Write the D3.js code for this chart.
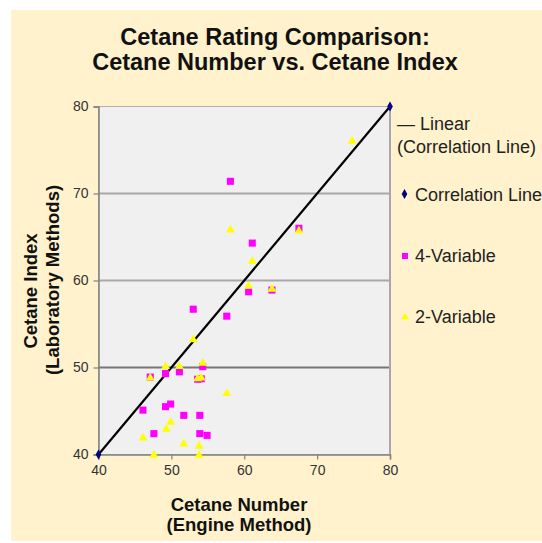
<!DOCTYPE html>
<html><head><meta charset="utf-8">
<script src="https://cdn.jsdelivr.net/npm/d3@7"></script>
<style>html,body{margin:0;padding:0;background:#fff;}svg{display:block;}</style>
</head><body>
<svg id="c" width="542" height="543"></svg>
<script>
const titleLines = ["Cetane Rating Comparison:", "Cetane Number vs. Cetane Index"];
const xTitleLines = ["Cetane Number", "(Engine Method)"];
const yTitleLines = ["Cetane Index", "(Laboratory Methods)"];
const xTicks = [40, 50, 60, 70, 80];
const yTicks = [40, 50, 60, 70, 80];
const corrX = [40, 80];
const corrY = [40, 80];
const fourVarX = [58.1, 67.5, 61.1, 60.6, 63.8, 53.0, 57.6, 54.3, 49.2, 51.1, 47.1, 53.6, 54.1, 46.1, 49.2, 49.9, 51.7, 53.9, 47.6, 53.9, 54.9];
const fourVarY = [71.4, 66.0, 64.3, 58.7, 58.9, 56.7, 55.9, 50.1, 49.3, 49.5, 48.9, 48.65, 48.7, 45.1, 45.5, 45.8, 44.5, 44.5, 42.4, 42.4, 42.2];
const twoVarX = [74.8, 58.1, 67.5, 61.1, 60.6, 63.8, 53.0, 54.3, 49.2, 51.1, 47.1, 53.6, 54.1, 57.6, 49.9, 49.3, 46.1, 51.7, 53.8, 47.6, 53.8];
const twoVarY = [76.1, 65.9, 65.8, 62.3, 59.45, 59.1, 53.3, 50.6, 50.2, 50.2, 48.9, 48.8, 48.9, 47.1, 43.8, 43.0, 42.0, 41.3, 41.05, 40.05, 40.0];
const legendLabels = ["Linear", "(Correlation Line)", "Correlation Line", "4-Variable", "2-Variable"];

const svg = d3.select("#c");
const font = "'Liberation Sans', Arial, sans-serif";
svg.append("rect").attr("x", 11).attr("y", 10).attr("width", 531).attr("height", 531).attr("fill", "#fff2cc");

const x = d3.scaleLinear().domain([40, 80]).range([98.5, 390]);
const y = d3.scaleLinear().domain([40, 80]).range([454.5, 106.5]);

// plot area
svg.append("rect").attr("x", x(40)).attr("y", y(80)).attr("width", x(80) - x(40)).attr("height", y(40) - y(80))
  .attr("fill", "#f0f0f0").attr("stroke", "#b0b0b0").attr("stroke-width", 1);
// gridlines
const gridColor = v => v === 50 ? "#777" : "#a8a8a8";
svg.append("g").selectAll("line").data(yTicks.filter(v => v > 40 && v < 80)).join("line")
  .attr("x1", x(40)).attr("x2", x(80)).attr("y1", d => y(d)).attr("y2", d => y(d))
  .attr("stroke", gridColor).attr("stroke-width", 1.8);
// right border
svg.append("line").attr("x1", x(80)).attr("x2", x(80)).attr("y1", y(80)).attr("y2", y(40)).attr("stroke", "#a8a8a8").attr("stroke-width", 2);

// axes
const xAxis = d3.axisBottom(x).tickValues(xTicks).tickSize(5).tickPadding(6).tickFormat(d3.format("d"));
const gx = svg.append("g").attr("transform", `translate(0,${y(40)})`).call(xAxis);
const yAxis = d3.axisLeft(y).tickValues(yTicks).tickSize(5).tickPadding(5).tickFormat(d3.format("d"));
const gy = svg.append("g").attr("transform", `translate(${x(40)},0)`).call(yAxis);
[gx, gy].forEach(g => {
  g.select(".domain").attr("stroke", "#808080").attr("stroke-width", 1.5);
  g.selectAll(".tick line").attr("stroke", "#808080").attr("stroke-width", 1.2);
  g.selectAll(".tick text").attr("fill", "#333").style("font-family", font).style("font-size", "14px");
});

// trendline
svg.append("line").attr("x1", x(corrX[0])).attr("y1", y(corrY[0])).attr("x2", x(corrX[1])).attr("y2", y(corrY[1]))
  .attr("stroke", "#000").attr("stroke-width", 2.2);

const four = fourVarX.map((v, i) => [v, fourVarY[i]]);
const two = twoVarX.map((v, i) => [v, twoVarY[i]]);
const corr = corrX.map((v, i) => [v, corrY[i]]);

const sq = d3.symbol().type(d3.symbolSquare).size(50);
const tri = d3.symbol().type(d3.symbolTriangle).size(34);
const dia = d3.symbol().type(d3.symbolDiamond).size(28);

svg.append("g").selectAll("path").data(four).join("path")
  .attr("d", sq).attr("transform", d => `translate(${x(d[0])},${y(d[1])})`).attr("fill", "#ff00ff");
svg.append("g").selectAll("path").data(two).join("path")
  .attr("d", tri).attr("transform", d => `translate(${x(d[0])},${y(d[1]) + 0.8})`).attr("fill", "#ffff00");
svg.append("g").selectAll("path").data(corr).join("path")
  .attr("d", dia).attr("transform", d => `translate(${x(d[0])},${y(d[1])})`).attr("fill", "#000080");

// titles
svg.append("g").selectAll("text").data(titleLines).join("text")
  .attr("x", 275).attr("y", (d, i) => 45 + i * 25).attr("text-anchor", "middle")
  .style("font-family", font).style("font-weight", "bold").style("font-size", "23.5px").attr("fill", "#111").text(d => d);
svg.append("g").selectAll("text").data(xTitleLines).join("text")
  .attr("x", 239).attr("y", (d, i) => 511 + i * 20).attr("text-anchor", "middle")
  .style("font-family", font).style("font-weight", "bold").style("font-size", "18.5px").attr("fill", "#111").text(d => d);
const yCenters = [291, 280];
svg.append("g").selectAll("text").data(yTitleLines).join("text")
  .attr("transform", (d, i) => `translate(${37 + i * 22},${yCenters[i]}) rotate(-90)`).attr("text-anchor", "middle")
  .style("font-family", font).style("font-weight", "bold").style("font-size", "18.5px").attr("fill", "#111").text(d => d);

// legend
const lg = svg.append("g").style("font-family", font).style("font-size", "18px").attr("fill", "#222");
lg.append("text").attr("x", 397).attr("y", 130).text("\u2014 " + legendLabels[0]);
lg.append("text").attr("x", 397).attr("y", 153).text(legendLabels[1]);
lg.append("path").attr("d", dia).attr("transform", "translate(404.5,194)").attr("fill", "#000080");
lg.append("text").attr("x", 415).attr("y", 200.5).text(legendLabels[2]);
lg.append("path").attr("d", d3.symbol().type(d3.symbolSquare).size(36)).attr("transform", "translate(405,256)").attr("fill", "#ff00ff");
lg.append("text").attr("x", 415).attr("y", 262).text(legendLabels[3]);
lg.append("path").attr("d", d3.symbol().type(d3.symbolTriangle).size(24)).attr("transform", "translate(405,317)").attr("fill", "#ffff00");
lg.append("text").attr("x", 415).attr("y", 323).text(legendLabels[4]);
</script>
</body></html>
